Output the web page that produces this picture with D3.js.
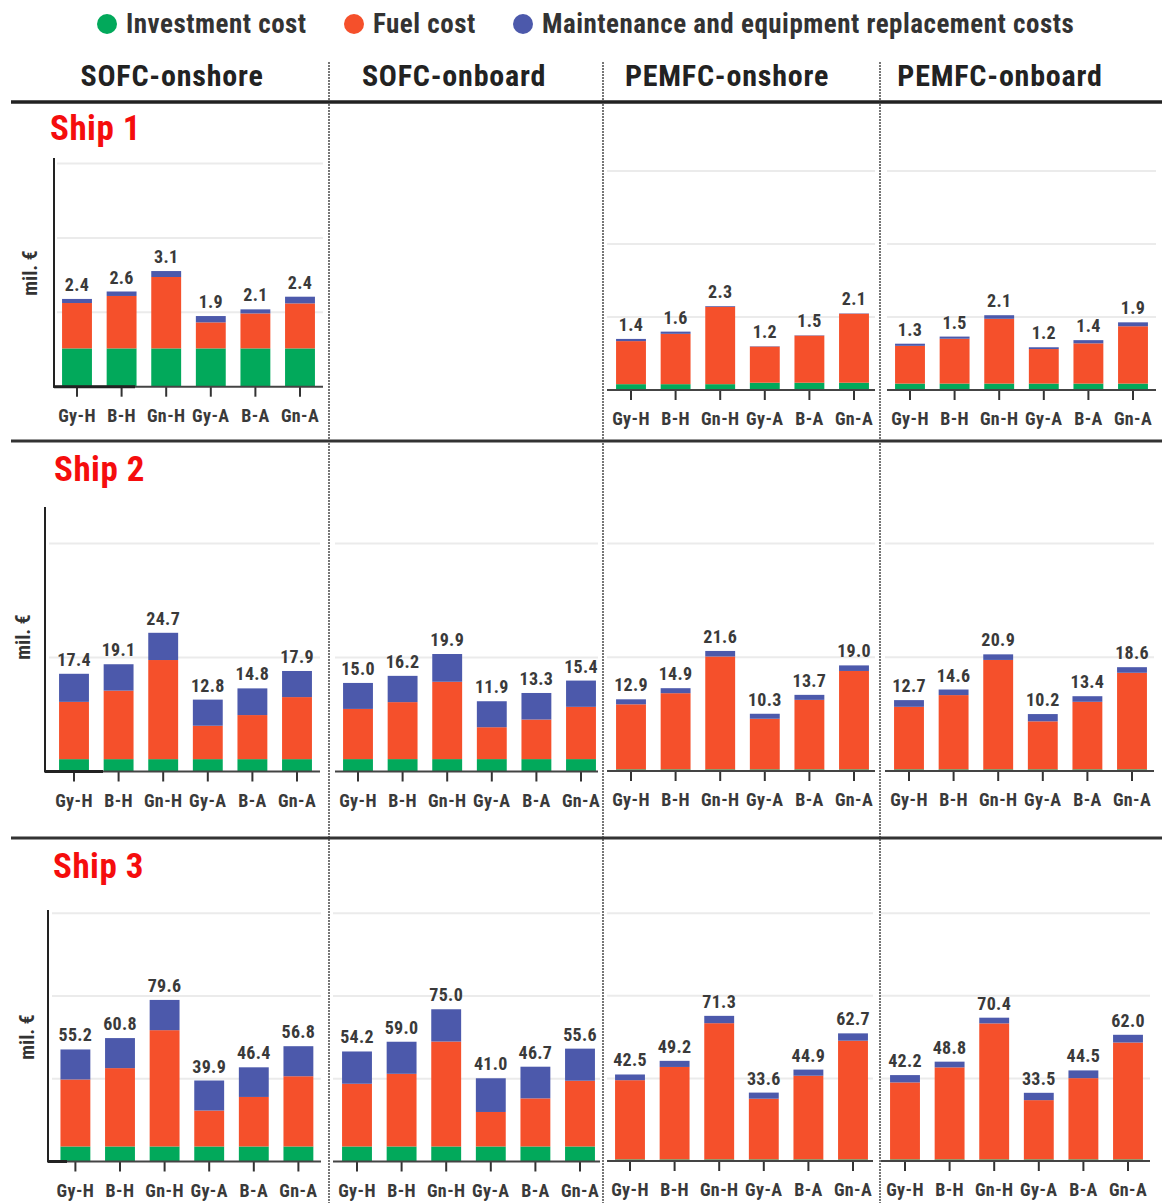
<!DOCTYPE html>
<html><head><meta charset="utf-8">
<script src="https://cdn.jsdelivr.net/npm/d3@7"></script>
<style>
html,body{margin:0;padding:0;background:#fff;}
svg{display:block;}
text{font-family:"Liberation Sans Narrow","Roboto Condensed","DejaVu Sans Condensed",sans-serif;font-weight:bold;}
</style></head>
<body>
<svg id="chart" width="1162" height="1203"></svg>
<script>
// ---------------- DATA (mil. €) ----------------
const categories = ["Gy-H","B-H","Gn-H","Gy-A","B-A","Gn-A"];
const systems = ["SOFC-onshore","SOFC-onboard","PEMFC-onshore","PEMFC-onboard"];
const ships = ["Ship 1","Ship 2","Ship 3"];
const costTypes = ["Investment cost","Fuel cost","Maintenance and equipment replacement costs"];
const yAxisTitle = "mil. €";

// one entry per system (order as in `systems`); null = no chart
const ship1Investment  = [[1.03,1.03,1.03,1.03,1.03,1.03], null, [0.16,0.16,0.16,0.20,0.20,0.20], [0.18,0.18,0.18,0.18,0.18,0.18]];
const ship1Fuel        = [[1.22,1.41,1.92,0.70,0.94,1.21], null, [1.18,1.38,2.12,0.99,1.29,1.89], [1.06,1.26,1.82,0.97,1.13,1.61]];
const ship1Maintenance = [[0.11,0.12,0.16,0.17,0.11,0.18], null, [0.06,0.06,0.02,0.01,0.01,0.01], [0.06,0.06,0.10,0.05,0.09,0.11]];

const ship2Investment  = [[2.2,2.2,2.2,2.2,2.2,2.2], [2.1,2.1,2.1,2.1,2.1,2.1], [0.3,0.3,0.3,0.3,0.3,0.3], [0.3,0.3,0.3,0.3,0.3,0.3]];
const ship2Fuel        = [[10.2,12.2,17.65,5.95,7.85,11.05], [8.5,9.65,13.1,5.4,6.7,8.85], [11.7,13.7,20.3,9.1,12.5,17.7], [11.2,13.3,19.6,8.6,12.1,17.3]];
const ship2Maintenance = [[5.0,4.7,4.85,4.65,4.75,4.65], [4.4,4.45,4.7,4.4,4.5,4.45], [0.9,0.9,1.0,0.9,0.9,1.0], [1.2,1.0,1.0,1.3,1.0,1.0]];

const ship3Investment  = [[7.4,7.4,7.4,7.4,7.4,7.4], [7.4,7.4,7.4,7.4,7.4,7.4], [0.8,0.8,0.8,0.8,0.8,0.8], [0.8,0.8,0.8,0.8,0.8,0.8]];
const ship3Fuel        = [[33.0,38.6,57.3,17.7,24.4,34.6], [30.9,35.8,51.7,17.0,23.7,32.4], [38.9,45.4,66.9,29.8,41.1,58.3], [37.8,45.2,66.8,29.1,39.9,57.4]];
const ship3Maintenance = [[14.8,14.8,14.9,14.8,14.6,14.8], [15.9,15.8,15.9,16.6,15.6,15.8], [2.8,3.0,3.6,3.0,3.0,3.6], [3.6,2.8,2.8,3.6,3.8,3.8]];

const gridTicks = [[2,4,6],[20,40],[40,80,120]];

// ---------------- LAYOUT ----------------
const colors = ["#02a95b","#f5502b","#4c59ab"];
const shipData = [
  [ship1Investment, ship1Fuel, ship1Maintenance],
  [ship2Investment, ship2Fuel, ship2Maintenance],
  [ship3Investment, ship3Fuel, ship3Maintenance]
];
const rows = [
  {top:158, title:[50,140], yTitle:[37,273], axisX:54, thickTo:135,
   panels:[{base:386.7,x:[53,323],c0:77,barMax:6.15,gridMax:6.15},
           null,
           {base:390,x:[607,875],c0:631,barMax:6.14,gridMax:6.14,top:166},
           {base:390,x:[887,1156],c0:910,barMax:6.29,gridMax:6.14,top:166}]},
  {top:507, title:[54,481], yTitle:[30,637], axisX:45, thickTo:103,
   panels:[{base:771.5,x:[45,320],c0:74,barMax:47.1,gridMax:46.4},
           {base:771.5,x:[335,598],c0:358,barMax:44.8,gridMax:46.4},
           {base:771,x:[607,875],c0:631,barMax:47.5,gridMax:46.4},
           {base:771,x:[885,1154],c0:909,barMax:47.3,gridMax:46.4}]},
  {top:910, title:[53,878], yTitle:[34,1037], axisX:48, thickTo:67,
   panels:[{base:1161.5,x:[48,321],c0:75.4,barMax:123.9,gridMax:121.6},
           {base:1161.5,x:[333,600],c0:357,barMax:123.9,gridMax:121.6},
           {base:1161,x:[607,873],c0:630,barMax:123.3,gridMax:121.6},
           {base:1161,x:[881,1150],c0:905,barMax:123.3,gridMax:121.6}]}
];
const step = 44.6;
const FONT = '"Liberation Sans Narrow","Roboto Condensed","DejaVu Sans Condensed",sans-serif';

const svg = d3.select("#chart");
svg.append("rect").attr("width",1162).attr("height",1203).attr("fill","#fff");

// Legend
const legendX = [107,354,523];
const lg = svg.append("g");
costTypes.forEach((t,i)=>{
  lg.append("circle").attr("cx",legendX[i]).attr("cy",24).attr("r",10).attr("fill",colors[i]);
  lg.append("text").attr("x",legendX[i]+19).attr("y",33).attr("font-size",27)
    .attr("letter-spacing",0.5).attr("fill","#333").text(t);
});

// Column headers
const headerX = [172,454,727,1000];
systems.forEach((s,i)=>{
  svg.append("text").attr("x",headerX[i]).attr("y",86).attr("text-anchor","middle")
    .attr("font-size",30).attr("letter-spacing",0.8).attr("fill","#222").text(s);
});

// Dividers
[329,603,880].forEach(x=>{
  svg.append("line").attr("x1",x).attr("x2",x).attr("y1",62).attr("y2",1203)
    .attr("stroke","#555").attr("stroke-width",1.6).attr("stroke-dasharray","2,1");
});
svg.append("line").attr("x1",11).attr("x2",1162).attr("y1",102).attr("y2",102).attr("stroke","#222").attr("stroke-width",3.5);
[441,838].forEach(y=>{
  svg.append("line").attr("x1",11).attr("x2",1162).attr("y1",y).attr("y2",y).attr("stroke","#333").attr("stroke-width",3);
});

const fmt = d3.format(".1f");

rows.forEach((row,ri)=>{
  const g = svg.append("g");
  g.append("text").attr("x",row.title[0]).attr("y",row.title[1]).attr("font-size",35)
    .attr("letter-spacing",0.5).attr("fill","#f50d0d").text(ships[ri]);
  g.append("text").attr("transform",`translate(${row.yTitle[0]},${row.yTitle[1]}) rotate(-90)`)
    .attr("text-anchor","middle").attr("font-size",20).attr("fill","#333").text(yAxisTitle);

  const [invA, fuelA, mntA] = shipData[ri];
  row.panels.forEach((p,pi)=>{
    if(!p || !invA[pi]) return;
    const top = p.top || row.top;
    const yBar = d3.scaleLinear().domain([0,p.barMax]).range([p.base, top]);
    const yGrid = d3.scaleLinear().domain([0,p.gridMax]).range([p.base, top]);
    const x = d3.scaleBand().domain(categories)
      .range([p.c0 - step/2, p.c0 + 5.5*step]).paddingInner(0.33).paddingOuter(0.165);
    const pg = g.append("g");
    pg.selectAll(".grid").data(gridTicks[ri]).join("line")
      .attr("x1",p.x[0]+ (pi===0?4:0)).attr("x2",p.x[1])
      .attr("y1",d=>yGrid(d)).attr("y2",d=>yGrid(d))
      .attr("stroke","#ebebeb").attr("stroke-width",2);
    const rowsData = categories.map((c,i)=>({cat:c, inv:invA[pi][i], fuel:fuelA[pi][i], mnt:mntA[pi][i]}));
    const stack = d3.stack().keys(["inv","fuel","mnt"])(rowsData);
    stack.forEach((layer,li)=>{
      pg.selectAll(null).data(layer).join("rect")
        .attr("x",d=>x(d.data.cat)).attr("width",x.bandwidth())
        .attr("y",d=>yBar(d[1])).attr("height",d=>yBar(d[0])-yBar(d[1]))
        .attr("fill",colors[li]);
    });
    pg.selectAll(null).data(rowsData).join("text")
      .attr("x",d=>x(d.cat)+x.bandwidth()/2)
      .attr("y",d=>yBar(d.inv+d.fuel+d.mnt)-8)
      .attr("text-anchor","middle").attr("font-size",18).attr("letter-spacing",0.3).attr("fill","#3a3a3a")
      .text(d=>fmt(Math.round((d.inv+d.fuel+d.mnt)*10)/10));
    const xAxis = d3.axisBottom(x).tickSize(10).tickSizeOuter(0).tickPadding(8);
    const ax = pg.append("g").attr("transform",`translate(0,${p.base})`).call(xAxis);
    ax.select(".domain").remove();
    ax.selectAll(".tick line").attr("stroke","#333").attr("stroke-width",2);
    ax.selectAll(".tick text").attr("font-size",18).attr("fill","#3a3a3a")
      .attr("font-family",FONT).attr("letter-spacing",0.4)
      .attr("font-weight","bold").attr("dy",null).attr("y",35);
    pg.append("line").attr("x1",p.x[0]).attr("x2",p.x[1]).attr("y1",p.base).attr("y2",p.base)
      .attr("stroke","#444").attr("stroke-width",2);
    if(pi===0){
      pg.append("line").attr("x1",row.axisX).attr("x2",row.axisX).attr("y1",row.top).attr("y2",p.base+1)
        .attr("stroke","#222").attr("stroke-width",2);
      pg.append("line").attr("x1",row.axisX).attr("x2",row.thickTo).attr("y1",p.base).attr("y2",p.base)
        .attr("stroke","#222").attr("stroke-width",3);
    }
  });
});
</script>
</body></html>
